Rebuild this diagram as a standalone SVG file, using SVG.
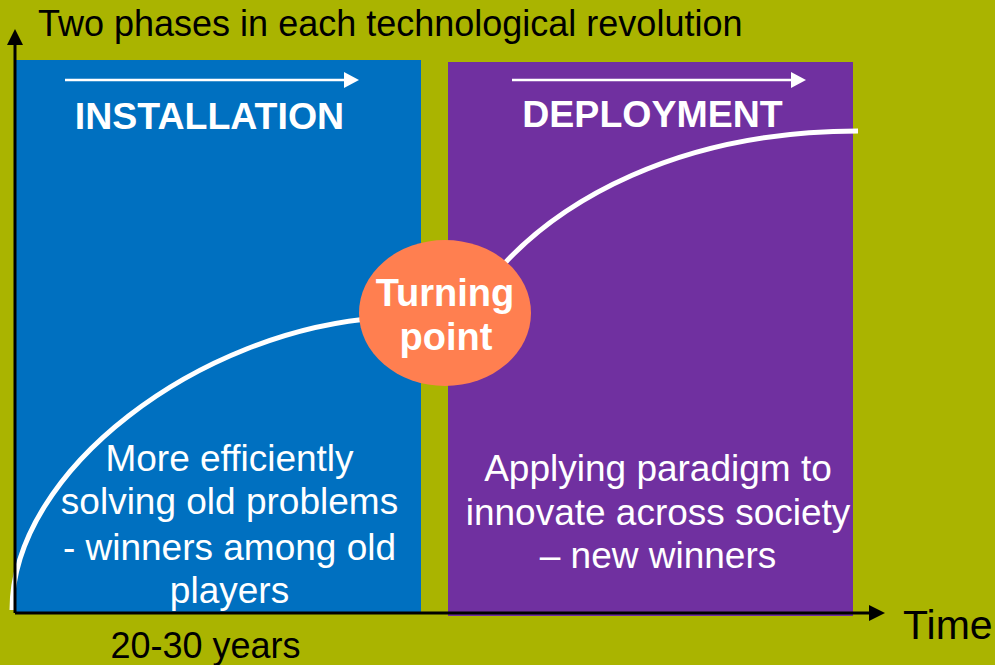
<svg xmlns="http://www.w3.org/2000/svg" width="995" height="665" viewBox="0 0 995 665">
  <defs>
    <style>
      text { font-family: "Liberation Sans", Arial, sans-serif; }
      .title { font-size: 36px; fill: #000; }
      .head { font-size: 37.5px; font-weight: bold; fill: #fff; text-anchor: middle; }
      .body { font-size: 37px; fill: #fff; text-anchor: middle; }
      .tp { font-size: 38px; font-weight: bold; fill: #fff; text-anchor: middle; }
      .axis { stroke: #000; stroke-width: 3; fill: none; }
      .curve { stroke: #fff; stroke-width: 5; fill: none; }
      .dir { stroke: #fff; stroke-width: 2.5; fill: none; }
    </style>
  </defs>
  <rect x="0" y="0" width="995" height="665" fill="#AAB400"/>

  <g id="installation">
    <rect x="16" y="60" width="405" height="552" fill="#0070C0"/>
    <line class="dir" x1="65" y1="80" x2="346" y2="80"/>
    <polygon points="344,72 359,80 344,88" fill="#fff"/>
    <text class="head" x="209.5" y="129">INSTALLATION</text>
    <text class="body" x="229.5" y="471">More efficiently</text>
    <text class="body" x="229.5" y="514">solving old problems</text>
    <text class="body" x="229.5" y="560">- winners among old</text>
    <text class="body" x="229.5" y="603">players</text>
  </g>

  <g id="deployment">
    <rect x="448" y="62" width="405" height="554" fill="#7030A0"/>
    <line class="dir" x1="512" y1="80" x2="793" y2="80"/>
    <polygon points="791,72 806,80 791,88" fill="#fff"/>
    <text class="head" x="652.5" y="127">DEPLOYMENT</text>
    <text class="body" x="658" y="481">Applying paradigm to</text>
    <text class="body" x="658" y="525">innovate across society</text>
    <text class="body" x="658" y="568">– new winners</text>
  </g>

  <g id="connectors">
    <path class="curve" d="M12,610 C12,470 200,330 380,318"/>
    <path class="curve" d="M490,280 C555,200 680,131 858,131"/>
  </g>

  <g id="turning-point">
    <ellipse cx="445" cy="313" rx="86" ry="73" fill="#FF7F50"/>
    <text class="tp" x="445" y="306">Turning</text>
    <text class="tp" x="446" y="350">point</text>
  </g>

  <g id="axes">
    <line class="axis" x1="15" y1="613" x2="15" y2="42"/>
    <polygon points="15,29 7,45 23,45" fill="#000"/>
    <line class="axis" x1="15" y1="613" x2="872" y2="613"/>
    <polygon points="885,613 869,605 869,621" fill="#000"/>
  </g>

  <g id="labels">
    <text class="title" x="38" y="36">Two phases in each technological revolution</text>
    <text class="title" x="205.5" y="658" text-anchor="middle">20-30 years</text>
    <text class="title" x="903" y="639" style="font-size:41px">Time</text>
  </g>
</svg>
